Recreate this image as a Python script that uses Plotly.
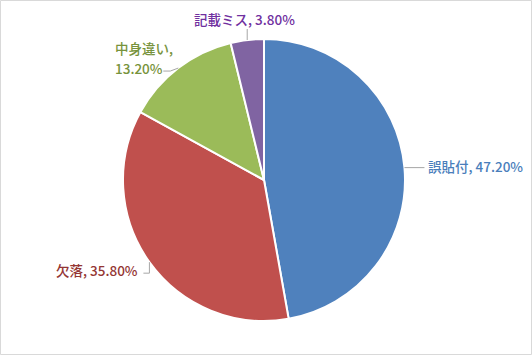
import math
import plotly.graph_objects as go

labels = ["誤貼付", "欠落", "中身違い", "記載ミス"]
values = [47.2, 35.8, 13.2, 3.8]
slice_colors = ["#4F81BD", "#C0504D", "#9BBB59", "#8064A2"]
text_colors = ["#4A7EBB", "#943634", "#77933C", "#7030A0"]

W, H = 532, 355
CX, CY, R = 264, 180, 141
FONT = "Noto Sans CJK JP, Meiryo, sans-serif"
FS = 13.5


def px2paper(x, y):
    return x / W, 1 - y / H


def edge_point(i):
    total = sum(values)
    before = sum(values[:i])
    frac = (before + values[i] / 2) / total
    th = 2 * math.pi * frac
    return CX + R * math.sin(th), CY - R * math.cos(th)


fig = go.Figure(go.Pie(
    labels=labels, values=values, sort=False, direction="clockwise", rotation=0,
    marker=dict(colors=slice_colors, line=dict(color="white", width=2)),
    textinfo="none", hoverinfo="label+percent", showlegend=False,
    domain=dict(x=[(CX - R) / W, (CX + R) / W], y=[1 - (CY + R) / H, 1 - (CY - R) / H]),
))

shapes = []
annotations = []

def line_path(points):
    pts = [px2paper(*p) for p in points]
    d = "M " + " L ".join(f"{x},{y}" for x, y in pts)
    return dict(type="path", xref="paper", yref="paper", path=d,
                line=dict(color="#A6A6A6", width=1))

def ann(text, x, y, color, xanchor):
    px, py = px2paper(x, y)
    return dict(text=text, x=px, y=py, xref="paper", yref="paper", showarrow=False,
                xanchor=xanchor, yanchor="middle",
                font=dict(family=FONT, size=FS, color=color, weight=500))

pct = [f"{v:.2f}%" for v in values]

# 0: 誤貼付 (right)
ex, ey = edge_point(0)
shapes.append(line_path([(ex, ey), (ex + 20, ey)]))
annotations.append(ann(f"{labels[0]}, {pct[0]}", ex + 22, ey - 2, text_colors[0], "left"))

# 1: 欠落 (lower left)
ex, ey = edge_point(1)
shapes.append(line_path([(ex, ey), (ex, ey + 11), (ex - 6, ey + 11)]))
annotations.append(ann(f"{labels[1]}, {pct[1]}", ex - 9, ey + 8, text_colors[1], "right"))

# 2: 中身違い (upper left, two lines)
ex, ey = edge_point(2)
shapes.append(line_path([(ex, ey), (ex - 8, ey + 3), (ex - 15, ey + 3)]))
annotations.append(ann(f"{labels[2]},", ex - 65, ey - 20.5, text_colors[2], "left"))
annotations.append(ann(pct[2], ex - 65, ey, text_colors[2], "left"))

# 3: 記載ミス (top)
ex, ey = edge_point(3)
shapes.append(line_path([(ex, ey), (ex, ey - 11)]))
annotations.append(ann(f"{labels[3]}, {pct[3]}", ex - 3, ey - 21, text_colors[3], "center"))

# outer border
shapes.append(dict(type="rect", xref="paper", yref="paper",
                   x0=0.5 / W, y0=0.5 / H, x1=1 - 0.5 / W, y1=1 - 0.5 / H,
                   line=dict(color="#D9D9D9", width=1)))

fig.update_layout(
    width=W, height=H, margin=dict(l=0, r=0, t=0, b=0),
    paper_bgcolor="white", plot_bgcolor="white",
    shapes=shapes, annotations=annotations,
    font=dict(family=FONT),
)

fig.write_html("out.html")
